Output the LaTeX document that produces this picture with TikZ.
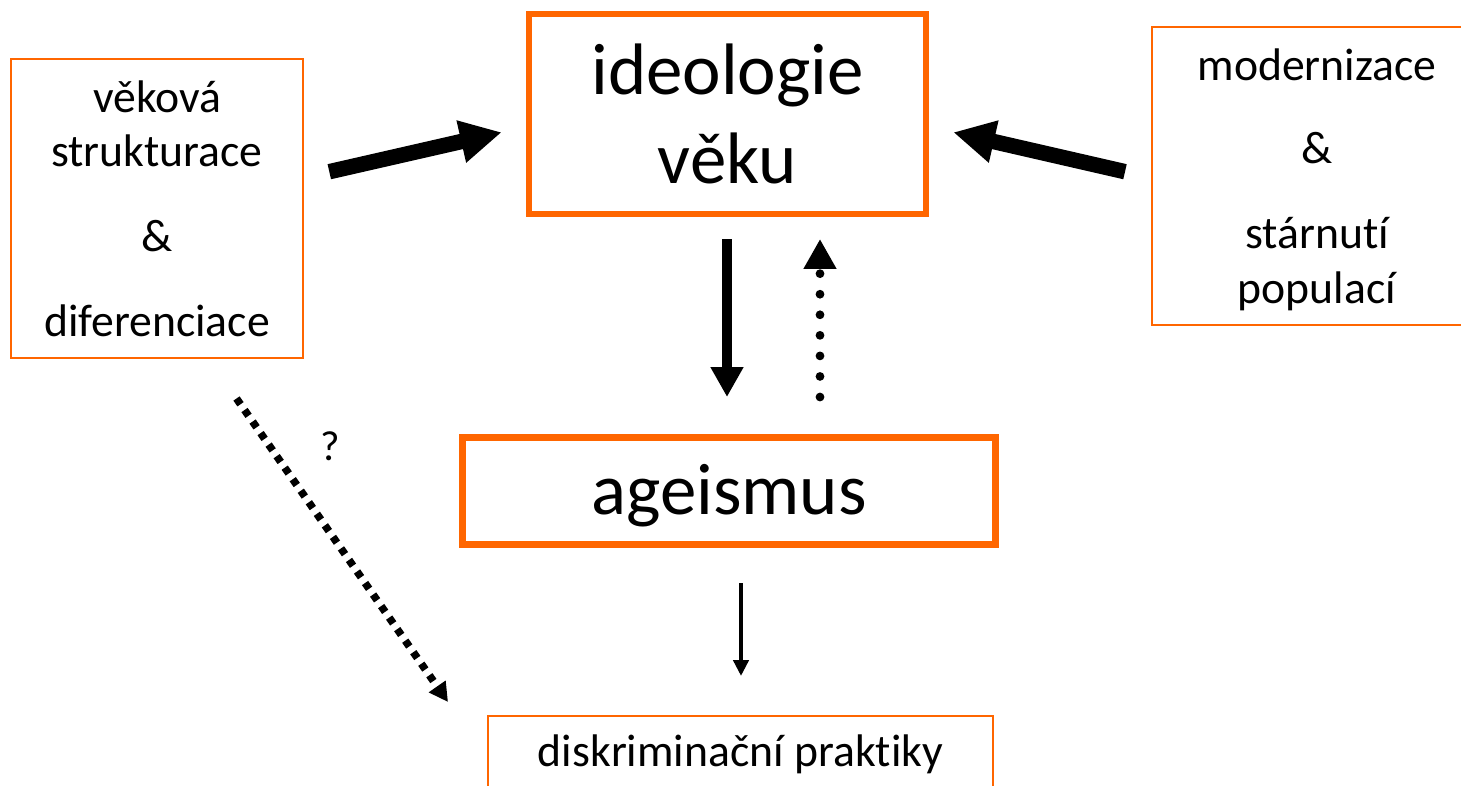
\documentclass[tikz,border=0pt]{standalone}
\usepackage{fontspec}
\setmainfont{Carlito}[Ligatures=NoCommon]
\usepackage{tikz}
\usetikzlibrary{arrows.meta}

\definecolor{boxorange}{RGB}{255,102,0}

\begin{document}
\begin{tikzpicture}[x=0.02cm,y=-0.02cm,
    thinbox/.style={draw=boxorange,line width=1pt,inner sep=0pt,align=center,font=\fontsize{26}{31.2}\selectfont},
    thickbox/.style={draw=boxorange,inner sep=0pt,align=center,font=\fontsize{41.5}{51}\selectfont},
    bigarrow/.style={line width=8.8pt,-{Triangle[length=23.6pt,width=23pt]}},
    midarrow/.style={-{Triangle[length=17pt,width=17.6pt]}}]
    \useasboundingbox (0,0) rectangle (1461,785);
    \clip (0,0) rectangle (1461,785);
    \node [thinbox,minimum width=5.84cm,minimum height=5.98cm] (struk) at (157,208.5)
        {věková\\strukturace\\[17pt]\&\\[17pt]diferenciace};
    \node [thinbox,minimum width=6.6cm,minimum height=5.96cm,text depth=0pt] (moder) at (1317,176)
        {modernizace\\[16pt]\&\\[17pt]stárnutí\\populací};
    \node [thickbox,line width=3.3pt,minimum width=7.95cm,minimum height=4.01cm] (ideo) at (727.5,114)
        {ideologie\\věku};
    \node [thickbox,line width=4pt,minimum width=10.67cm,minimum height=2.14cm,text height=29pt,text depth=2pt] (age) at (729,491)
        {ageismus};
    \node [thinbox,minimum width=10.1cm,minimum height=1.54cm] (diskr) at (740.5,754.5)
        {diskriminační praktiky};
    \node [font=\fontsize{24}{28}\selectfont] (quest) at (330,446) {?};
    \coordinate (strukout) at (329.3,171.7);
    \coordinate (ideoinl) at (501.7,132.3);
    \coordinate (moderout) at (1125,171.7);
    \coordinate (ideoinr) at (953.3,132.3);
    \coordinate (ideoout) at (727,239);
    \coordinate (agein) at (727,397);
    \coordinate (ageout) at (820,397);
    \coordinate (ideoback) at (820,239);
    \coordinate (agedown) at (741,583);
    \coordinate (diskrin) at (741,676);
    \coordinate (diagout) at (236.5,398.5);
    \coordinate (diagin) at (448,702);
    \draw [bigarrow] (strukout) -- (ideoinl);
    \draw [bigarrow] (moderout) -- (ideoinr);
    \draw [midarrow,line width=5.7pt] (ideoout) -- (agein);
    \draw [midarrow,line width=5pt,line cap=round,dash pattern=on 0pt off 11.7pt] (ageout) -- (ideoback);
    \draw [line width=2.6pt,-{Triangle[length=9pt,width=8.5pt]}] (agedown) -- (diskrin);
    \draw [line width=4.3pt,dash pattern=on 4pt off 4pt,-{Triangle[length=10.8pt,width=11pt]}] (diagout) -- (diagin);
\end{tikzpicture}
\end{document}
